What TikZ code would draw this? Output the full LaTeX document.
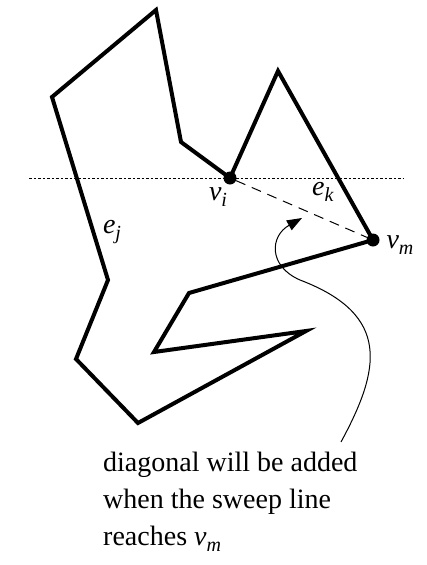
\documentclass[tikz,border=0pt]{standalone}
\usepackage{fontspec}
\setmainfont{Liberation Serif}
\usetikzlibrary{arrows.meta}
\newcommand{\vlabel}[2]{\textit{#1}\raisebox{-0.22em}{\fontsize{20}{20}\selectfont\textit{#2}}}

\begin{document}
\begin{tikzpicture}
[every node/.style={inner sep=0pt}, font=\fontsize{28}{37}\selectfont]
\useasboundingbox (0pt, 0pt) rectangle (427pt, -565pt);
\coordinate (1) at (156pt, -10pt);
\coordinate (2) at (181pt, -142pt);
\node (vi) [circle, minimum size=13pt, fill=black] at (230pt, -178pt) {};
\coordinate (3) at (278pt, -71pt);
\node (vm) [circle, minimum size=13pt, fill=black] at (373pt, -240pt) {};
\coordinate (4) at (189pt, -293pt);
\coordinate (5) at (154pt, -352pt);
\coordinate (6) at (306pt, -331pt);
\coordinate (7) at (138pt, -423pt);
\coordinate (8) at (76pt, -359pt);
\coordinate (9) at (108pt, -280pt);
\coordinate (10) at (52pt, -97pt);
\coordinate (sl) at (29pt, -178pt);
\coordinate (sr) at (403pt, -178pt);
\coordinate (tail) at (341pt, -442pt);
\coordinate (tip) at (302pt, -218pt);
\draw [line width=1pt, dash pattern=on 2.5pt off 2pt, color=black] (sl) to (sr);
\draw [line width=1pt, dash pattern=on 10pt off 7pt, color=black] (vi) to (vm);
\draw [line width=4pt, line join=miter, color=black] (1) -- (2) -- (vi.center) -- (3) -- (vm.center) -- (4) -- (5) -- (6) -- (7) -- (8) -- (9) -- (10) -- cycle;
\draw [line width=1pt, -{Triangle[length=15pt, width=11pt]}, color=black] (tail) .. controls (380pt, -370pt) and (392pt, -315pt) .. (300pt, -280pt) .. controls (268pt, -266pt) and (270pt, -236pt) .. (tip);
\node (li) at (218pt, -197pt) {\vlabel{v}{i}};
\node (lk) at (323pt, -192pt) {\vlabel{e}{k}};
\node (lj) at (112pt, -232pt) {\vlabel{e}{j}};
\node (lm) at (400pt, -245pt) {\vlabel{v}{m}};
\node (note) [anchor=north west, align=left] at (103pt, -452pt) {diagonal will be added\\when the sweep line\\reaches \vlabel{v}{m}};
\end{tikzpicture}
\end{document}
